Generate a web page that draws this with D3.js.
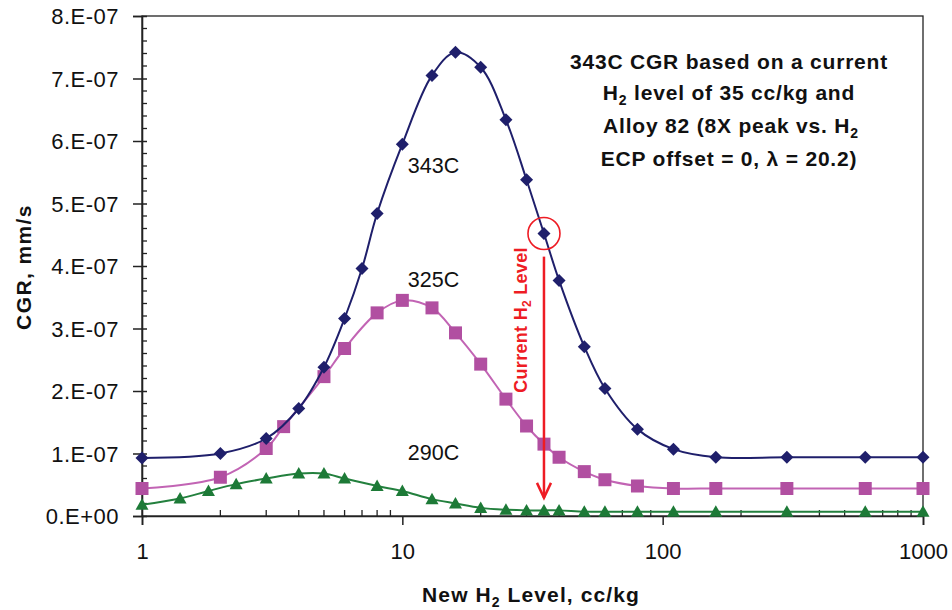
<!DOCTYPE html>
<html>
<head>
<meta charset="utf-8">
<script src="https://cdn.jsdelivr.net/npm/d3@7"></script>
<style>
  html, body { margin: 0; padding: 0; background: #fff; }
  svg { display: block; font-family: "Liberation Sans", Arial, sans-serif; }
</style>
</head>
<body>
<svg id="chart" width="952" height="610"></svg>
<script>
// ---------------- data ----------------
const x343 = [1, 2, 3, 4, 5, 6, 7, 8, 10, 13, 16, 20, 25, 30, 35, 40, 50, 60, 80, 110, 160, 300, 600, 1000];
const y343 = [0.93, 1.0, 1.24, 1.72, 2.38, 3.16, 3.96, 4.84, 5.95, 7.05, 7.42, 7.18, 6.34, 5.38, 4.52, 3.77, 2.71, 2.04, 1.39, 1.07, 0.94, 0.94, 0.94, 0.94].map(v => v * 1e-7);

const x325 = [1, 2, 3, 3.5, 5, 6, 8, 10, 13, 16, 20, 25, 30, 35, 40, 50, 60, 80, 110, 160, 300, 600, 1000];
const y325 = [0.44, 0.62, 1.08, 1.43, 2.23, 2.68, 3.25, 3.45, 3.33, 2.93, 2.43, 1.87, 1.44, 1.15, 0.94, 0.71, 0.58, 0.48, 0.44, 0.44, 0.44, 0.44, 0.44].map(v => v * 1e-7);

const x290 = [1, 1.4, 1.8, 2.3, 3, 4, 5, 6, 8, 10, 13, 16, 20, 25, 30, 35, 40, 50, 60, 80, 110, 160, 300, 600, 1000];
const y290 = [0.18, 0.28, 0.40, 0.51, 0.60, 0.68, 0.68, 0.60, 0.48, 0.40, 0.27, 0.20, 0.13, 0.10, 0.09, 0.09, 0.09, 0.07, 0.07, 0.07, 0.07, 0.07, 0.07, 0.07, 0.07].map(v => v * 1e-7);

const xTickValues = [1, 10, 100, 1000];
const xTickLabels = ["1", "10", "100", "1000"];
const yTickValues = [0, 1e-7, 2e-7, 3e-7, 4e-7, 5e-7, 6e-7, 7e-7, 8e-7];
const yTickLabels = ["0.E+00", "1.E-07", "2.E-07", "3.E-07", "4.E-07", "5.E-07", "6.E-07", "7.E-07", "8.E-07"];

const seriesNames = ["343C", "325C", "290C"];
const currentH2 = 35;
const arrowFromTo = [4.15e-7, 0.29e-7];
const seriesLabelPos = [[10.5, 5.49e-7], [10.5, 3.66e-7], [10.5, 0.9e-7]];

// ---------------- layout ----------------
const svg = d3.select("#chart");
const L = 142, R = 923, T = 16, B = 516;

const x = d3.scaleLog().domain([1, 1000]).range([L, R]);
const y = d3.scaleLinear().domain([0, 8e-7]).range([B, T]);

const axisColor = "#222";
const textColor = "#111";

// frame (top & right)
svg.append("rect").attr("x", L).attr("y", T).attr("width", R - L).attr("height", B - T)
  .attr("fill", "none").attr("stroke", axisColor).attr("stroke-width", 1.3);

// y axis
const yAxis = d3.axisLeft(y).tickValues(yTickValues)
  .tickFormat((d, i) => yTickLabels[i]).tickSize(9).tickPadding(14);
const gy = svg.append("g").attr("transform", `translate(${L},0)`).call(yAxis);
gy.select(".domain").attr("stroke", axisColor).attr("stroke-width", 1.6);
gy.selectAll(".tick line").attr("stroke", axisColor).attr("stroke-width", 1.5).attr("x2", -9).attr("x1", 5);
gy.selectAll(".tick text").attr("font-size", 22).attr("letter-spacing", 0.5).attr("fill", textColor).attr("dy", "0.36em");

// y minor ticks
const yMinor = d3.range(0, 8e-7 + 1e-12, 2e-8).filter((d, i) => i % 5 !== 0);
svg.append("g").selectAll("line").data(yMinor).join("line")
  .attr("x1", L).attr("x2", L + 5).attr("y1", d => y(d)).attr("y2", d => y(d))
  .attr("stroke", axisColor).attr("stroke-width", 1.3);

// x axis
const xAxis = d3.axisBottom(x).tickValues(xTickValues)
  .tickFormat((d, i) => xTickLabels[i]).tickSize(9).tickPadding(18);
const gx = svg.append("g").attr("transform", `translate(0,${B})`).call(xAxis);
gx.select(".domain").attr("stroke", axisColor).attr("stroke-width", 1.6);
gx.selectAll(".tick line").attr("stroke", axisColor).attr("stroke-width", 1.5);
gx.selectAll(".tick text").attr("font-size", 22).attr("fill", textColor);

// x minor ticks
const xMinor = [];
[1, 10, 100].forEach(dec => { for (let k = 2; k <= 9; k++) xMinor.push(dec * k); });
svg.append("g").selectAll("line").data(xMinor).join("line")
  .attr("x1", d => x(d)).attr("x2", d => x(d)).attr("y1", B).attr("y2", B - 6)
  .attr("stroke", axisColor).attr("stroke-width", 1.3);

// axis titles
svg.append("text").attr("transform", `translate(31,${(T + B) / 2 + 1}) rotate(-90)`)
  .attr("text-anchor", "middle").attr("font-size", 21).attr("letter-spacing", 1.4)
  .attr("font-weight", "bold").attr("fill", textColor)
  .text("CGR, mm/s");

const xt = svg.append("text").attr("x", 531).attr("y", 602)
  .attr("text-anchor", "middle").attr("font-size", 21).attr("letter-spacing", 1.1)
  .attr("font-weight", "bold").attr("fill", textColor);
xt.append("tspan").text("New H");
xt.append("tspan").attr("font-size", 14).attr("dy", 5).text("2");
xt.append("tspan").attr("dy", -5).text(" Level, cc/kg");

// ---------------- series ----------------
const line = d3.line().x(d => x(d[0])).y(d => y(d[1])).curve(d3.curveCatmullRom.alpha(0.5));

const series = [
  { xs: x343, ys: y343, line: "#1f1f6b", fill: "#1f1f6b", shape: "diamond" },
  { xs: x325, ys: y325, line: "#c264b4", fill: "#b14fa1", shape: "square" },
  { xs: x290, ys: y290, line: "#23803e", fill: "#1d7a37", shape: "triangle" }
];

function markerPath(shape) {
  if (shape === "diamond") return "M0,-6.5L6.5,0L0,6.5L-6.5,0Z";
  if (shape === "square") return "M-6.5,-6.5H6.5V6.5H-6.5Z";
  return "M0,-6.5L6.5,5L-6.5,5Z";
}

// draw lines first (bottom to top order: 290, 325, 343)
[2, 1, 0].forEach(si => {
  const s = series[si];
  const pts = s.xs.map((v, i) => [v, s.ys[i]]);
  svg.append("path").datum(pts).attr("d", line).attr("fill", "none")
    .attr("stroke", s.line).attr("stroke-width", 2);
  svg.append("g").selectAll("path").data(pts).join("path")
    .attr("transform", d => `translate(${x(d[0])},${y(d[1])})`)
    .attr("d", markerPath(s.shape)).attr("fill", s.fill);
});

// series labels
seriesNames.forEach((n, i) => {
  svg.append("text").attr("x", x(seriesLabelPos[i][0])).attr("y", y(seriesLabelPos[i][1]))
    .attr("font-size", 21.5).attr("fill", textColor).text(n);
});

// ---------------- annotations ----------------
const red = "#ee1c24";
const i35 = x343.indexOf(currentH2);
svg.append("circle").attr("cx", x(currentH2)).attr("cy", y(y343[i35])).attr("r", 16)
  .attr("fill", "none").attr("stroke", red).attr("stroke-width", 1.6);

const ax = x(currentH2);
svg.append("line").attr("x1", ax).attr("x2", ax)
  .attr("y1", y(arrowFromTo[0])).attr("y2", y(arrowFromTo[1]))
  .attr("stroke", red).attr("stroke-width", 2.5);
svg.append("path")
  .attr("d", `M${ax - 7},${y(arrowFromTo[1]) - 15}L${ax},${y(arrowFromTo[1])}L${ax + 7},${y(arrowFromTo[1]) - 15}`)
  .attr("fill", "none").attr("stroke", red).attr("stroke-width", 2.5);

const ct = svg.append("text").attr("transform", `translate(${ax - 17},320) rotate(-90)`)
  .attr("text-anchor", "middle").attr("font-size", 18).attr("letter-spacing", 0.3)
  .attr("font-weight", "bold").attr("fill", red);
ct.append("tspan").text("Current H");
ct.append("tspan").attr("font-size", 12).attr("dy", 4).text("2");
ct.append("tspan").attr("dy", -4).text(" Level");

// note block
const noteX = 729;
const note = svg.append("g").attr("font-size", 21).attr("letter-spacing", 0.8)
  .attr("font-weight", "bold").attr("fill", textColor).attr("text-anchor", "middle");
note.append("text").attr("x", noteX).attr("y", 69).text("343C CGR based on a current");
const n2 = note.append("text").attr("x", noteX).attr("y", 100);
n2.append("tspan").text("H");
n2.append("tspan").attr("font-size", 14).attr("dy", 5).text("2");
n2.append("tspan").attr("dy", -5).text(" level of 35 cc/kg and");
const n3 = note.append("text").attr("x", noteX + 2).attr("y", 133);
n3.append("tspan").text("Alloy 82 (8X peak vs. H");
n3.append("tspan").attr("font-size", 14).attr("dy", 5).text("2");
note.append("text").attr("x", noteX).attr("y", 166).text("ECP offset = 0, \u03bb = 20.2)");
</script>
</body>
</html>
